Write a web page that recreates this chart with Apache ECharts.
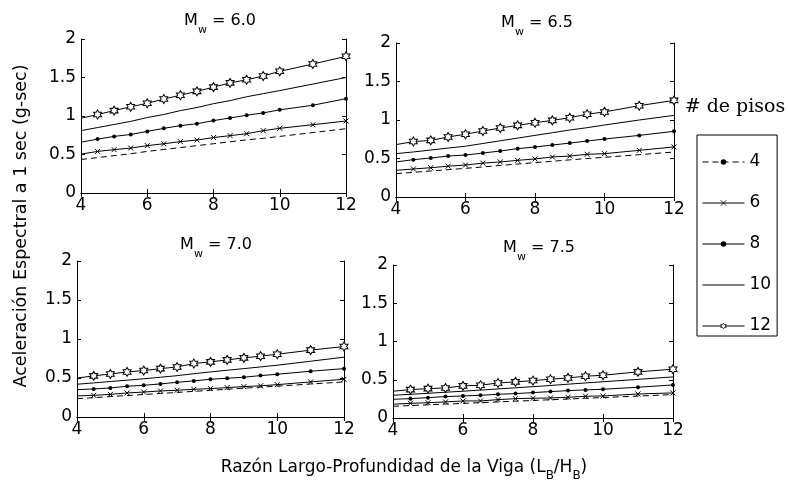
<!DOCTYPE html>
<html><head><meta charset="utf-8">
<script src="https://cdn.jsdelivr.net/npm/echarts@6/dist/echarts.min.js"></script>
<style>html,body{margin:0;padding:0;background:#fff}#c{width:788px;height:485px}</style>
</head><body><div id="c"></div>
<script>
// ---------------- data ----------------
const ratios = [4, 4.5, 5, 5.5, 6, 6.5, 7, 7.5, 8, 8.5, 9, 9.5, 10, 11, 12];
const floors = ['4', '6', '8', '10', '12'];
const magnitudes = ['6.0', '6.5', '7.0', '7.5'];
const xTickMin = 4, xTickMax = 12, xTickStep = 2;
const yTickMin = 0, yTickMax = 2, yTickStep = 0.5;

// Mw = 6.0
const mw60_p4  = [0.435,0.46,0.485,0.51,0.54,0.565,0.59,0.615,0.64,0.665,0.69,0.71,0.735,0.785,0.835];
const mw60_p6  = [0.505,0.54,0.563,0.584,0.615,0.64,0.667,0.688,0.72,0.745,0.77,0.81,0.84,0.887,0.935];
const mw60_p8  = [0.66,0.70,0.735,0.76,0.80,0.84,0.875,0.90,0.94,0.975,1.01,1.04,1.08,1.14,1.225];
const mw60_p10 = [0.81,0.85,0.89,0.93,0.98,1.02,1.07,1.11,1.16,1.20,1.25,1.29,1.33,1.415,1.50];
const mw60_p12 = [0.97,1.02,1.07,1.12,1.165,1.22,1.27,1.32,1.375,1.43,1.47,1.52,1.58,1.675,1.775];
// Mw = 6.5
const mw65_p4  = [0.303,0.32,0.338,0.355,0.372,0.39,0.41,0.428,0.446,0.464,0.482,0.50,0.515,0.55,0.584];
const mw65_p6  = [0.346,0.364,0.38,0.40,0.415,0.44,0.455,0.476,0.494,0.52,0.532,0.554,0.563,0.606,0.65];
const mw65_p8  = [0.455,0.485,0.506,0.532,0.545,0.571,0.597,0.628,0.649,0.675,0.70,0.727,0.753,0.80,0.853];
const mw65_p10 = [0.563,0.585,0.61,0.635,0.66,0.695,0.73,0.765,0.80,0.835,0.87,0.90,0.935,1.0,1.06];
const mw65_p12 = [0.68,0.72,0.735,0.78,0.815,0.857,0.896,0.93,0.965,0.995,1.03,1.075,1.105,1.186,1.255];
// Mw = 7.0
const mw70_p4  = [0.235,0.248,0.262,0.275,0.288,0.302,0.315,0.329,0.342,0.356,0.369,0.383,0.396,0.423,0.45];
const mw70_p6  = [0.27,0.278,0.29,0.308,0.32,0.334,0.343,0.355,0.364,0.377,0.39,0.40,0.415,0.45,0.484];
const mw70_p8  = [0.35,0.36,0.372,0.394,0.407,0.424,0.445,0.463,0.484,0.497,0.51,0.531,0.548,0.587,0.62];
const mw70_p10 = [0.42,0.437,0.455,0.472,0.49,0.51,0.53,0.555,0.578,0.60,0.62,0.642,0.664,0.715,0.767];
const mw70_p12 = [0.50,0.527,0.552,0.578,0.595,0.62,0.642,0.685,0.707,0.732,0.758,0.78,0.805,0.857,0.904];
// Mw = 7.5
const mw75_p4  = [0.153,0.163,0.172,0.182,0.191,0.201,0.21,0.22,0.229,0.239,0.248,0.258,0.267,0.287,0.306];
const mw75_p6  = [0.18,0.192,0.20,0.21,0.223,0.223,0.24,0.253,0.258,0.262,0.271,0.284,0.288,0.314,0.328];
const mw75_p8  = [0.245,0.253,0.266,0.28,0.288,0.297,0.31,0.319,0.332,0.345,0.358,0.367,0.376,0.402,0.432];
const mw75_p10 = [0.297,0.31,0.323,0.337,0.35,0.365,0.38,0.395,0.41,0.425,0.442,0.458,0.474,0.505,0.537];
const mw75_p12 = [0.35,0.371,0.384,0.393,0.42,0.428,0.458,0.472,0.489,0.507,0.524,0.546,0.559,0.603,0.638];

const panels = [
  [mw60_p4, mw60_p6, mw60_p8, mw60_p10, mw60_p12],
  [mw65_p4, mw65_p6, mw65_p8, mw65_p10, mw65_p12],
  [mw70_p4, mw70_p6, mw70_p8, mw70_p10, mw70_p12],
  [mw75_p4, mw75_p6, mw75_p8, mw75_p10, mw75_p12]
];

// ---------------- layout / style ----------------
const FONT = 'DejaVu Sans';
const gridPos = [
  {left: 81, top: 39, width: 265, height: 154},
  {left: 396, top: 43, width: 278, height: 154},
  {left: 77, top: 261, width: 267, height: 156},
  {left: 393, top: 265, width: 280, height: 153}
];
const titlePos = [[220, 21], [537, 23], [216, 245], [539, 248]];

const STAR = 'path://M100,0L128.9,50L186.6,50L157.7,100L186.6,150L128.9,150L100,200L71.1,150L13.4,150L42.3,100L13.4,50L71.1,50Z';
const CROSS = 'path://M0,0L10,10M10,0L0,10';

const floorStyle = {
  '4':  {symbol: 'circle', symbolSize: 3, showSymbol: false, lineStyle: {color: '#000', width: 1, type: [6, 4]}, itemStyle: {color: '#000'}},
  '6':  {symbol: CROSS, symbolSize: 5, lineStyle: {color: '#000', width: 1}, itemStyle: {color: '#000', borderColor: '#000', borderWidth: 1}},
  '8':  {symbol: 'circle', symbolSize: 4, lineStyle: {color: '#000', width: 1}, itemStyle: {color: '#000'}},
  '10': {symbol: 'none', lineStyle: {color: '#000', width: 1}, itemStyle: {color: '#000'}},
  '12': {symbol: STAR, symbolSize: [8, 9], lineStyle: {color: '#000', width: 1}, itemStyle: {color: '#fff', borderColor: '#000', borderWidth: 1}}
};

const grid = [], xAxis = [], yAxis = [], series = [], graphic = [];
const axisLineStyle = {show: true, lineStyle: {color: '#000', width: 1}};
const tick = {show: true, inside: true, length: 4, lineStyle: {color: '#000'}};

gridPos.forEach((g, i) => {
  grid.push(Object.assign({containLabel: false}, g));
  const xBase = {type: 'value', gridIndex: i, min: xTickMin, max: xTickMax, interval: xTickStep,
    axisLine: axisLineStyle, axisTick: tick, splitLine: {show: false}};
  xAxis.push(Object.assign({}, xBase, {position: 'bottom',
    axisLabel: {color: '#000', fontFamily: FONT, fontSize: 17, margin: 4}}));
  xAxis.push(Object.assign({}, xBase, {position: 'top', axisLabel: {show: false}}));
  const yBase = {type: 'value', gridIndex: i, min: yTickMin, max: yTickMax, interval: yTickStep,
    axisLine: axisLineStyle, axisTick: tick, splitLine: {show: false}};
  yAxis.push(Object.assign({}, yBase, {position: 'left',
    axisLabel: {color: '#000', fontFamily: FONT, fontSize: 17, margin: 5, formatter: v => String(v)}}));
  yAxis.push(Object.assign({}, yBase, {position: 'right', axisLabel: {show: false}}));

  panels[i].forEach((vals, k) => {
    const f = floors[k];
    const st = floorStyle[f];
    series.push(Object.assign({
      type: 'line', name: f, xAxisIndex: i * 2, yAxisIndex: i * 2,
      data: ratios.map((x, j) => j === 0 ? {value: [x, vals[j]], symbol: 'none'} : [x, vals[j]]),
      animation: false, silent: true, z: 2 + k
    }, st));
  });

  graphic.push({
    type: 'text', x: titlePos[i][0], y: titlePos[i][1],
    style: {
      text: '{a|M}{b|w}{a| = ' + magnitudes[i] + '}',
      align: 'center', verticalAlign: 'middle',
      rich: {
        a: {fontFamily: FONT, fontSize: 16, fill: '#000', lineHeight: 30, verticalAlign: 'middle'},
        b: {fontFamily: FONT, fontSize: 11, fill: '#000', lineHeight: 30, verticalAlign: 'bottom'}
      }
    }
  });
});

// axis titles
graphic.push({
  type: 'text', x: 404, y: 468,
  style: {
    text: '{a|Razón Largo-Profundidad de la Viga (L}{b|B}{a|/H}{b|B}{a|)}',
    align: 'center', verticalAlign: 'middle',
    rich: {
      a: {fontFamily: FONT, fontSize: 17, fill: '#000', lineHeight: 28, verticalAlign: 'middle'},
      b: {fontFamily: FONT, fontSize: 12, fill: '#000', lineHeight: 28, verticalAlign: 'bottom'}
    }
  }
});
graphic.push({
  type: 'text', x: 21, y: 226, rotation: Math.PI / 2,
  style: {text: 'Aceleración Espectral a 1 sec (g-sec)', fontFamily: FONT, fontSize: 17.5, fill: '#000',
    align: 'center', verticalAlign: 'middle'}
});
graphic.push({
  type: 'text', x: 735, y: 107,
  style: {text: '# de pisos', fontFamily: 'DejaVu Serif', fontSize: 19, fill: '#000',
    align: 'center', verticalAlign: 'middle'}
});

const legendItemStyle = {
  '4': {},
  '6': {borderWidth: 0.8},
  '8': {},
  '10': {opacity: 0},
  '12': {borderWidth: 0.8, color: '#fff', borderColor: '#000'}
};

const option = {
  animation: false,
  backgroundColor: '#fff',
  grid, xAxis, yAxis, series, graphic,
  legend: {
    orient: 'vertical', left: 697, top: 135,
    padding: [17, 6, 0, 5],
    itemWidth: 42, itemHeight: 7, itemGap: 21,
    borderColor: '#000', borderWidth: 1,
    selectedMode: false,
    lineStyle: {width: 1},
    textStyle: {color: '#000', fontFamily: FONT, fontSize: 17, lineHeight: 20},
    data: floors.map(f => ({name: f, itemStyle: legendItemStyle[f]}))
  }
};
const chart = echarts.init(document.getElementById('c'), null, {renderer: 'canvas'});
chart.setOption(option);
</script></body></html>
